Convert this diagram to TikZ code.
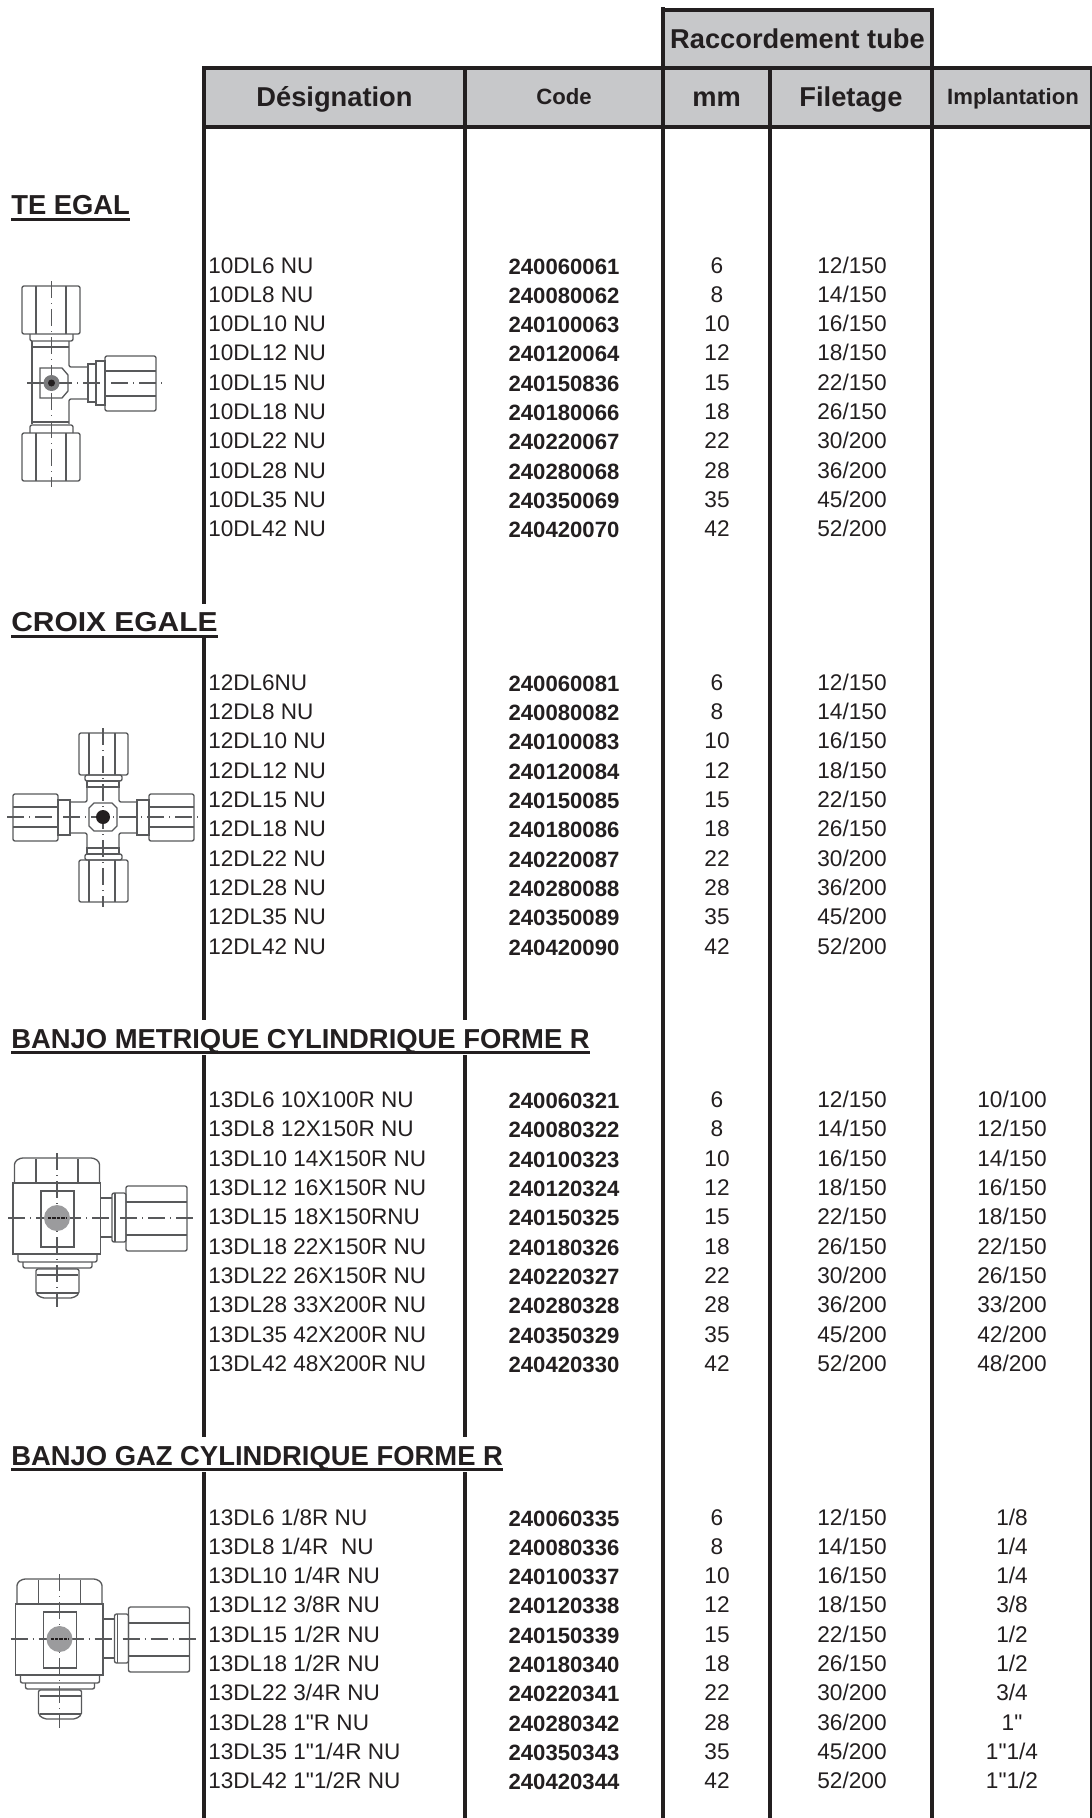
\documentclass[tikz,border=0pt]{standalone}
\usepackage{fontspec}
\usetikzlibrary{positioning}
\newfontfamily\sheetfont{Liberation Sans}
\definecolor{inkdark}{HTML}{231F20}
\definecolor{headgrey}{HTML}{C7C8CA}
\definecolor{fitgrey}{HTML}{58595B}
\tikzset{
  headcell/.style={draw=inkdark, fill=headgrey, line width=3.4pt, outer sep=0pt, inner sep=0pt, minimum height=44.25pt, text=inkdark},
  headbig/.style={headcell, text height=14.2pt, text depth=0pt, font=\sheetfont\bfseries\fontsize{20.45}{24}\selectfont},
  headsmall/.style={headcell, text height=11.2pt, text depth=0pt, font=\sheetfont\bfseries\fontsize{16.6}{20}\selectfont},
  colline/.style={draw=inkdark, line width=2.5pt},
  desig/.style={anchor=base west, inner sep=0pt, text=inkdark, font=\sheetfont\fontsize{16.9}{20}\selectfont},
  codeno/.style={anchor=base, inner sep=0pt, text=inkdark, font=\sheetfont\bfseries\fontsize{16.6}{20}\selectfont},
  plainno/.style={anchor=base, inner sep=0pt, text=inkdark, font=\sheetfont\fontsize{17}{20}\selectfont},
  sectitle/.style={anchor=base west, fill=white, inner xsep=0pt, inner ysep=0pt, text height=21pt, text depth=5pt, text=inkdark, font=\sheetfont\bfseries\fontsize{20.55}{24}\selectfont},
  titlerule/.style={draw=inkdark, line width=2.2pt},
  fitline/.style={draw=fitgrey, line width=1pt},
  axisline/.style={draw=fitgrey, line width=1pt, dash pattern=on 13pt off 3.5pt on 1pt off 3.5pt},
  nut/.style={fitline, rounded corners=1.5pt},
  banjofit/.pic={
    \draw[fitline, rounded corners=2pt] (-42.5,-35) -- (-42.5,-56) -- (-37,-60) -- (37,-60) -- (42.5,-56) -- (42.5,-35);
    \draw[fitline] (-21,-59) -- (-21,-35) (21,-59) -- (21,-35);
    \draw[fitline] (-44,-35) rectangle (43.5,36);
    \draw[draw=fitgrey, line width=1.7pt] (-44,-35) -- (43.5,-35) (-44,36) -- (43.5,36);
    \draw[fitline] (-16,-27) rectangle (17,29);
    \draw[nut] (-39,36) -- (-39,44) -- (40,44) -- (40,36);
    \draw[nut] (-34,44) -- (-34,50) -- (35,50) -- (35,44);
    \draw[nut] (-21,51) -- (-21,76) -- (-15,80) -- (16,80) -- (22,76) -- (22,51) -- cycle;
    \draw[fitline] (-20,57) -- (21,57) (-20,75) -- (21,75);
    \draw[nut] (43.5,-20) -- (55,-20) (43.5,19) -- (55,19);
    \draw[nut] (55,-25) rectangle (69,24);
    \draw[fitline] (58,-25) -- (58,24);
    \draw[nut] (69,-32) rectangle (130,33);
    \draw[fitline] (69,-16) -- (130,-16) (69,17) -- (130,17);
    \draw[axisline] (-49,0) -- (136,0) (0,-65) -- (0,89);
    \fill[fitgrey!60] (0,0) circle (13);
    \draw[draw=inkdark, line width=2pt, dash pattern=on 2.5pt off .8pt] (-9,0) -- (9,0);
  }
}
\newcommand{\tuberow}[6]{
  \node[desig] (d#2) at (208,#1) {#3};
  \node[codeno] (c#2) at (564,#1+1) {#4};
  \node[plainno] (m#2) at (717,#1) {#5};
  \node[plainno] (f#2) at (852,#1) {#6};
}
\newcommand{\banjorow}[7]{
  \tuberow{#1}{#2}{#3}{#4}{#5}{#6}
  \node[plainno] (i#2) at (1012,#1) {#7};
}
\begin{document}
\begin{tikzpicture}[x=.75pt, y=-.75pt]
\useasboundingbox (0,0) rectangle (1092,1818);

\coordinate (b1) at (204,1818);
\coordinate (b2) at (465,1818);
\coordinate (b3) at (663,1818);
\coordinate (b4) at (770,1818);
\coordinate (b5) at (932,1818);
\coordinate (b6) at (1091,1818);
\coordinate (t6) at (1091,127);
\coordinate (spike) at (663,7);

\node[headbig, minimum width=195.75pt] (hdes) at (334.5,97.5) {Désignation};
\node[headsmall, minimum width=148.5pt, right=0pt of hdes] (hcode) {Code};
\node[headbig, minimum width=80.25pt, right=0pt of hcode] (hmm) {mm};
\node[headbig, minimum width=121.5pt, right=0pt of hmm] (hfil) {Filetage};
\node[headsmall, minimum width=120pt, right=0pt of hfil] (himp) {\hspace{1.5pt}Implantation};
\node[headbig, minimum width=201.75pt, minimum height=43.5pt, text height=13.5pt] (hrac) at (797.5,39) {Raccordement tube};

\draw[colline] (hdes.south west) -- (b1);
\draw[colline] (hdes.south east) -- (b2);
\draw[colline] (hcode.south east) -- (b3);
\draw[colline] (hmm.south east) -- (b4);
\draw[colline] (hfil.south east) -- (b5);
\draw[draw=inkdark, line width=.8pt] (t6) -- (b6);
\draw[draw=inkdark, line width=3.4pt] (hrac.north west) -- (spike);

\node[sectitle] (s1) at (11,214.4) {TE EGAL};
\node[sectitle] (s2) at (11,631.7) {\scalebox{1.093}[1]{CROIX EGALE}};
\node[sectitle] (s3) at (11,1048) {BANJO METRIQUE CYLINDRIQUE FORME R};
\node[sectitle] (s4) at (11,1465) {BANJO GAZ CYLINDRIQUE FORME R};
\draw[titlerule] ([yshift=1.7pt]s1.south west) -- ([yshift=1.7pt]s1.south east);
\draw[titlerule] ([yshift=1.7pt]s2.south west) -- ([yshift=1.7pt]s2.south east);
\draw[titlerule] ([yshift=1.7pt]s3.south west) -- ([yshift=1.7pt]s3.south east);
\draw[titlerule] ([yshift=1.7pt]s4.south west) -- ([yshift=1.7pt]s4.south east);

\tuberow{273}{a1}{10DL6 NU}{240060061}{6}{12/150}
\tuberow{302.3}{a2}{10DL8 NU}{240080062}{8}{14/150}
\tuberow{331.6}{a3}{10DL10 NU}{240100063}{10}{16/150}
\tuberow{360.9}{a4}{10DL12 NU}{240120064}{12}{18/150}
\tuberow{390.2}{a5}{10DL15 NU}{240150836}{15}{22/150}
\tuberow{419.5}{a6}{10DL18 NU}{240180066}{18}{26/150}
\tuberow{448.8}{a7}{10DL22 NU}{240220067}{22}{30/200}
\tuberow{478.1}{a8}{10DL28 NU}{240280068}{28}{36/200}
\tuberow{507.4}{a9}{10DL35 NU}{240350069}{35}{45/200}
\tuberow{536.7}{a10}{10DL42 NU}{240420070}{42}{52/200}

\tuberow{690.3}{b1}{12DL6NU}{240060081}{6}{12/150}
\tuberow{719.6}{b2}{12DL8 NU}{240080082}{8}{14/150}
\tuberow{748.9}{b3}{12DL10 NU}{240100083}{10}{16/150}
\tuberow{778.2}{b4}{12DL12 NU}{240120084}{12}{18/150}
\tuberow{807.5}{b5}{12DL15 NU}{240150085}{15}{22/150}
\tuberow{836.8}{b6}{12DL18 NU}{240180086}{18}{26/150}
\tuberow{866.1}{b7}{12DL22 NU}{240220087}{22}{30/200}
\tuberow{895.4}{b8}{12DL28 NU}{240280088}{28}{36/200}
\tuberow{924.7}{b9}{12DL35 NU}{240350089}{35}{45/200}
\tuberow{954}{b10}{12DL42 NU}{240420090}{42}{52/200}

\banjorow{1107.6}{c1}{13DL6 10X100R NU}{240060321}{6}{12/150}{10/100}
\banjorow{1136.9}{c2}{13DL8 12X150R NU}{240080322}{8}{14/150}{12/150}
\banjorow{1166.2}{c3}{13DL10 14X150R NU}{240100323}{10}{16/150}{14/150}
\banjorow{1195.5}{c4}{13DL12 16X150R NU}{240120324}{12}{18/150}{16/150}
\banjorow{1224.8}{c5}{13DL15 18X150RNU}{240150325}{15}{22/150}{18/150}
\banjorow{1254.1}{c6}{13DL18 22X150R NU}{240180326}{18}{26/150}{22/150}
\banjorow{1283.4}{c7}{13DL22 26X150R NU}{240220327}{22}{30/200}{26/150}
\banjorow{1312.7}{c8}{13DL28 33X200R NU}{240280328}{28}{36/200}{33/200}
\banjorow{1342}{c9}{13DL35 42X200R NU}{240350329}{35}{45/200}{42/200}
\banjorow{1371.3}{c10}{13DL42 48X200R NU}{240420330}{42}{52/200}{48/200}

\banjorow{1525}{e1}{13DL6 1/8R NU}{240060335}{6}{12/150}{1/8}
\banjorow{1554.3}{e2}{13DL8 1/4R\ \ NU}{240080336}{8}{14/150}{1/4}
\banjorow{1583.6}{e3}{13DL10 1/4R NU}{240100337}{10}{16/150}{1/4}
\banjorow{1612.9}{e4}{13DL12 3/8R NU}{240120338}{12}{18/150}{3/8}
\banjorow{1642.2}{e5}{13DL15 1/2R NU}{240150339}{15}{22/150}{1/2}
\banjorow{1671.5}{e6}{13DL18 1/2R NU}{240180340}{18}{26/150}{1/2}
\banjorow{1700.8}{e7}{13DL22 3/4R NU}{240220341}{22}{30/200}{3/4}
\banjorow{1730.1}{e8}{13DL28 1"R NU}{240280342}{28}{36/200}{1"}
\banjorow{1759.4}{e9}{13DL35 1"1/4R NU}{240350343}{35}{45/200}{1"1/4}
\banjorow{1788.7}{e10}{13DL42 1"1/2R NU}{240420344}{42}{52/200}{1"1/2}

\draw[nut] (22,286) rectangle (80,334);
\draw[fitline] (36,286) -- (36,334) (66,286) -- (66,334);
\draw[nut] (30,334) -- (30,341) -- (73,341) -- (73,334);
\draw[fitline] (32,341) -- (32,424) (32,347) -- (69,347);
\draw[nut] (69,341) -- (69,367) -- (88,367);
\draw[nut] (88,399) -- (69,399) -- (69,424);
\draw[fitline] (88,364) rectangle (96,402);
\draw[fitline] (96,361) rectangle (105,405);
\draw[nut] (105,356) rectangle (156,411);
\draw[fitline] (105,371) -- (156,371) (105,396) -- (156,396);
\draw[fitline] (32,422) -- (69,422);
\draw[nut] (30,433) -- (30,425) -- (73,425) -- (73,433);
\draw[nut] (22,433) rectangle (80,481);
\draw[fitline] (36,433) -- (36,481) (66,433) -- (66,481);
\draw[fitline] (40,368) -- (62,368) -- (68,375) -- (68,391) -- (62,398) -- (40,398) -- cycle;
\draw[axisline] (51.5,281) -- (51.5,487) (27,383) -- (162,383);
\fill[fitgrey!80] (51.5,383) circle (8);
\fill[inkdark] (51.5,383) circle (3.5);

\draw[nut] (79,733) rectangle (128,775);
\draw[fitline] (89,733) -- (89,775) (115,733) -- (115,775);
\draw[nut] (85,775) rectangle (122,781);
\draw[fitline] (87,781) rectangle (119,787);
\draw[nut] (87,787) -- (87,802) -- (70,802);
\draw[nut] (119,787) -- (119,802) -- (137,802);
\draw[nut] (70,833) -- (87,833) -- (87,848);
\draw[nut] (137,833) -- (119,833) -- (119,848);
\draw[fitline] (58,800) rectangle (70,835);
\draw[nut] (13,794) rectangle (58,841);
\draw[fitline] (13,807) -- (58,807) (13,827) -- (58,827);
\draw[fitline] (137,800) rectangle (149,835);
\draw[nut] (149,794) rectangle (194,841);
\draw[fitline] (149,807) -- (194,807) (149,827) -- (194,827);
\draw[fitline] (87,848) rectangle (119,854);
\draw[nut] (85,854) rectangle (122,860);
\draw[nut] (79,860) rectangle (128,902);
\draw[fitline] (89,860) -- (89,902) (115,860) -- (115,902);
\draw[fitline] (94,803) -- (112,803) -- (117,808) -- (117,826) -- (112,831) -- (94,831) -- (89,826) -- (89,808) -- cycle;
\draw[axisline] (7,817) -- (198,817) (103,728) -- (103,907);
\fill[inkdark] (103,817) circle (7);

\pic (banjoA) at (57,1218) {banjofit};
\pic (banjoB) at (59.5,1639) {banjofit};
\end{tikzpicture}
\end{document}
